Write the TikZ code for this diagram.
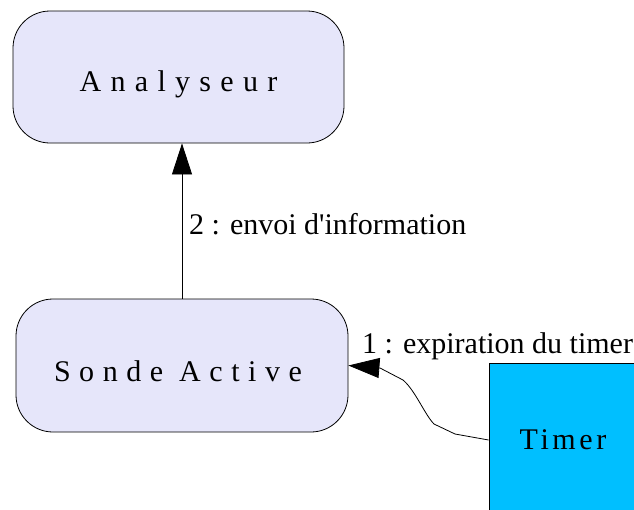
\documentclass[tikz,border=0pt]{standalone}
\usepackage{fontspec}
\setmainfont{Liberation Serif}
\newfontfamily\analysefont[LetterSpace=31]{Liberation Serif}
\newfontfamily\sondefont[LetterSpace=28.5]{Liberation Serif}
\newfontfamily\timerfont[LetterSpace=12]{Liberation Serif}
\usetikzlibrary{arrows.meta}
\definecolor{boxfill}{HTML}{E6E6FA}
\definecolor{timerfill}{HTML}{00BFFF}
\tikzset{
  every node/.style={font=\fontsize{30}{36}\selectfont},
  roundbox/.style={draw=black, fill=boxfill, rounded corners=37pt, inner sep=0pt,
    line width=0.8pt, text depth=0pt},
  squarebox/.style={draw=black, fill=timerfill, inner sep=0pt, line width=0.8pt,
    text depth=0pt},
  msg/.style={draw=black, line width=0.8pt, -{Triangle[length=31pt,width=20pt]}},
  msglabel/.style={anchor=base west, inner sep=0pt}
}
\begin{document}
\begin{tikzpicture}[x=1pt, y=-1pt]
  \useasboundingbox (0,0) rectangle (634,509);
  % objects
  \node[roundbox, minimum width=331pt, minimum height=132pt, text height=28pt,
    font=\fontsize{30}{36}\analysefont]
    (analyseur) at (178.5,77) {Analyseur};
  \node[roundbox, minimum width=332pt, minimum height=133pt, text height=31pt,
    font=\fontsize{30}{36}\sondefont]
    (sonde) at (182,365.5) {Sonde Active\hspace*{8pt}};
  \node[squarebox, minimum width=148pt, minimum height=154pt, text height=18pt,
    font=\fontsize{30}{36}\timerfont]
    (timer) at (563,440) {Timer};
  % messages
  \draw[msg] (sonde.north) -- (sonde.north |- analyseur.south);
  \node[msglabel] (m2) at (189,234) {2 : envoi d\textquotesingle information};
  \draw[msg] (timer.west) -- (455,434) -- (434,424)
    .. controls (425,415) and (415,390) .. (403,380) -- (380,368) -- (sonde.east);
  \node[msglabel] (m1) at (362,353) {1 : expiration du timer};
\end{tikzpicture}
\end{document}
